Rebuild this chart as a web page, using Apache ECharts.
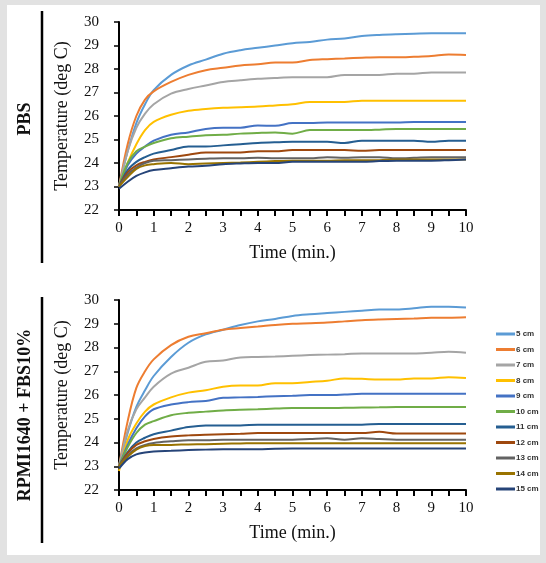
<!DOCTYPE html>
<html>
<head>
<meta charset="utf-8">
<script src="https://cdn.jsdelivr.net/npm/echarts@6/dist/echarts.min.js"></script>
</head>
<body style="margin:0">
<div id="chart" style="width:546px;height:563px;background:#fff;box-shadow:inset 7px 5px 0 #e2e2e2, inset -6px -8px 0 #e2e2e2"></div>
<script>
// time points (min.)
var times = [0, 0.25, 0.5, 0.75, 1, 1.5, 2, 2.5, 3, 3.5, 4, 4.5, 5, 5.5, 6, 6.5, 7, 7.5, 8, 8.5, 9, 9.5, 10]
var names = ['5 cm', '6 cm', '7 cm', '8 cm', '9 cm', '10 cm', '11 cm', '12 cm', '13 cm', '14 cm', '15 cm']
var colors = ['#5B9BD5', '#ED7D31', '#A5A5A5', '#FFC000', '#4472C4', '#70AD47', '#255E91', '#9E480E', '#636363', '#997300', '#264478']
var yTicks = [22, 23, 24, 25, 26, 27, 28, 29, 30]

// PBS
var pbs5  = [23.0, 24.5, 25.7, 26.5, 27.1, 27.75, 28.15, 28.4, 28.65, 28.8, 28.9, 29.0, 29.1, 29.15, 29.25, 29.3, 29.4, 29.45, 29.48, 29.5, 29.52, 29.52, 29.52]
var pbs6  = [23.0, 24.8, 26.0, 26.7, 27.05, 27.45, 27.75, 27.95, 28.05, 28.15, 28.2, 28.28, 28.28, 28.38, 28.42, 28.45, 28.48, 28.5, 28.5, 28.52, 28.55, 28.62, 28.6]
var pbs7  = [23.0, 24.5, 25.5, 26.1, 26.5, 26.95, 27.15, 27.3, 27.45, 27.52, 27.58, 27.62, 27.65, 27.65, 27.65, 27.75, 27.75, 27.75, 27.8, 27.8, 27.85, 27.85, 27.85]
var pbs8  = [23.0, 24.0, 24.8, 25.4, 25.75, 26.05, 26.22, 26.3, 26.35, 26.37, 26.4, 26.45, 26.5, 26.6, 26.6, 26.6, 26.65, 26.65, 26.65, 26.65, 26.65, 26.65, 26.65]
var pbs9  = [23.0, 23.9, 24.4, 24.7, 24.95, 25.2, 25.3, 25.45, 25.5, 25.5, 25.6, 25.58, 25.7, 25.7, 25.72, 25.72, 25.72, 25.72, 25.72, 25.74, 25.74, 25.75, 25.75]
var pbs10 = [23.0, 24.0, 24.5, 24.7, 24.85, 25.05, 25.12, 25.18, 25.2, 25.25, 25.28, 25.3, 25.25, 25.4, 25.4, 25.4, 25.4, 25.42, 25.45, 25.45, 25.45, 25.45, 25.45]
var pbs11 = [23.0, 23.7, 24.05, 24.25, 24.4, 24.55, 24.7, 24.7, 24.75, 24.8, 24.85, 24.88, 24.9, 24.9, 24.9, 24.85, 24.95, 24.95, 24.95, 24.95, 24.9, 24.95, 24.95]
var pbs12 = [23.0, 23.6, 23.9, 24.05, 24.15, 24.25, 24.35, 24.45, 24.45, 24.45, 24.5, 24.5, 24.55, 24.55, 24.55, 24.55, 24.52, 24.55, 24.55, 24.55, 24.55, 24.55, 24.55]
var pbs13 = [23.0, 23.5, 23.8, 24.0, 24.1, 24.12, 24.15, 24.18, 24.2, 24.2, 24.22, 24.2, 24.2, 24.2, 24.25, 24.22, 24.25, 24.25, 24.2, 24.22, 24.25, 24.25, 24.25]
var pbs14 = [23.0, 23.4, 23.75, 23.9, 23.95, 24.0, 23.95, 23.98, 24.0, 24.02, 24.05, 24.08, 24.1, 24.1, 24.1, 24.12, 24.12, 24.12, 24.15, 24.15, 24.15, 24.15, 24.15]
var pbs15 = [22.9, 23.2, 23.45, 23.6, 23.7, 23.78, 23.85, 23.88, 23.95, 23.98, 24.0, 24.0, 24.05, 24.05, 24.05, 24.05, 24.05, 24.08, 24.1, 24.1, 24.1, 24.12, 24.15]

// RPMI1640 + FBS10%
var rpmi5  = [23.0, 24.4, 25.5, 26.2, 26.8, 27.6, 28.2, 28.55, 28.75, 28.95, 29.1, 29.2, 29.33, 29.4, 29.45, 29.5, 29.55, 29.6, 29.6, 29.65, 29.72, 29.72, 29.68]
var rpmi6  = [23.0, 24.9, 26.3, 27.0, 27.5, 28.1, 28.45, 28.6, 28.75, 28.82, 28.88, 28.95, 29.0, 29.02, 29.05, 29.1, 29.15, 29.18, 29.2, 29.22, 29.25, 29.25, 29.27]
var rpmi7  = [23.0, 24.5, 25.4, 25.9, 26.35, 26.9, 27.15, 27.4, 27.45, 27.58, 27.6, 27.62, 27.65, 27.68, 27.7, 27.72, 27.75, 27.75, 27.75, 27.75, 27.78, 27.82, 27.78]
var rpmi8  = [22.8, 24.1, 24.8, 25.3, 25.6, 25.9, 26.1, 26.2, 26.35, 26.4, 26.4, 26.5, 26.5, 26.55, 26.6, 26.7, 26.68, 26.65, 26.65, 26.7, 26.7, 26.75, 26.72]
var rpmi9  = [23.0, 23.9, 24.6, 25.1, 25.4, 25.6, 25.7, 25.75, 25.88, 25.9, 25.92, 25.95, 25.97, 26.0, 26.0, 26.02, 26.05, 26.05, 26.05, 26.05, 26.05, 26.05, 26.05]
var rpmi10 = [23.0, 23.8, 24.4, 24.75, 24.9, 25.15, 25.25, 25.3, 25.35, 25.38, 25.4, 25.43, 25.45, 25.45, 25.45, 25.46, 25.47, 25.48, 25.5, 25.5, 25.5, 25.5, 25.5]
var rpmi11 = [23.0, 23.6, 24.0, 24.2, 24.35, 24.5, 24.65, 24.72, 24.72, 24.72, 24.75, 24.75, 24.75, 24.75, 24.75, 24.75, 24.75, 24.78, 24.78, 24.78, 24.78, 24.78, 24.78]
var rpmi12 = [23.0, 23.55, 23.9, 24.05, 24.15, 24.25, 24.3, 24.33, 24.35, 24.37, 24.4, 24.4, 24.4, 24.4, 24.4, 24.4, 24.4, 24.45, 24.38, 24.38, 24.38, 24.38, 24.38]
var rpmi13 = [23.0, 23.45, 23.75, 23.9, 23.98, 24.05, 24.1, 24.1, 24.12, 24.12, 24.12, 24.12, 24.12, 24.15, 24.18, 24.12, 24.18, 24.15, 24.12, 24.12, 24.12, 24.12, 24.12]
var rpmi14 = [23.0, 23.4, 23.7, 23.85, 23.9, 23.9, 23.92, 23.93, 23.95, 23.96, 23.97, 23.97, 23.97, 23.97, 23.97, 23.97, 23.97, 23.97, 23.97, 23.97, 23.97, 23.97, 23.97]
var rpmi15 = [22.9, 23.3, 23.5, 23.58, 23.62, 23.65, 23.68, 23.7, 23.72, 23.72, 23.72, 23.74, 23.75, 23.75, 23.75, 23.75, 23.75, 23.75, 23.75, 23.75, 23.75, 23.75, 23.75]

var pbsList = [pbs5, pbs6, pbs7, pbs8, pbs9, pbs10, pbs11, pbs12, pbs13, pbs14, pbs15]
var rpmiList = [rpmi5, rpmi6, rpmi7, rpmi8, rpmi9, rpmi10, rpmi11, rpmi12, rpmi13, rpmi14, rpmi15]

var serif = '"Liberation Serif", "DejaVu Serif", serif'

function makeX (idx) {
    return {
        type: 'value', gridIndex: idx, min: 0, max: 10, interval: 1,
        name: 'Time (min.)', nameLocation: 'middle', nameGap: 34,
        nameTextStyle: { fontFamily: serif, fontSize: 18, color: '#111' },
        axisLine: { show: true, lineStyle: { color: '#000', width: 2 } },
        axisTick: { show: true, length: 6, lineStyle: { color: '#000', width: 2 } },
        minorTick: { show: true, splitNumber: 2, length: 6, lineStyle: { color: '#000', width: 2 } },
        splitLine: { show: false },
        axisLabel: { fontFamily: serif, fontSize: 15, color: '#111', margin: 11 }
    }
}
function makeY (idx) {
    return {
        type: 'value', gridIndex: idx, min: yTicks[0], max: yTicks[yTicks.length - 1], interval: 1,
        name: 'Temperature (deg C)', nameLocation: 'middle', nameGap: 48,
        nameTextStyle: { fontFamily: serif, fontSize: 18, color: '#111' },
        axisLine: { show: true, lineStyle: { color: '#000', width: 2 } },
        axisTick: { show: true, length: 5, lineStyle: { color: '#000', width: 1.5 } },
        splitLine: { show: false },
        axisLabel: { fontFamily: serif, fontSize: 15, color: '#111', margin: 20 }
    }
}
// plain tick-only copies of the axes
function tickX (idx) {
    return {
        type: 'value', gridIndex: idx, position: 'bottom', min: 0, max: 10, interval: 1,
        axisLine: { show: false },
        axisTick: { show: true, length: 6, lineStyle: { color: '#000', width: 2 } },
        minorTick: { show: true, splitNumber: 2, length: 6, lineStyle: { color: '#000', width: 2 } },
        splitLine: { show: false },
        axisLabel: { show: false }
    }
}
function tickY (idx) {
    return {
        type: 'value', gridIndex: idx, position: 'left', min: yTicks[0], max: yTicks[yTicks.length - 1], interval: 1,
        axisLine: { show: false },
        axisTick: { show: true, length: 5, lineStyle: { color: '#000', width: 1.5 } },
        splitLine: { show: false },
        axisLabel: { show: false }
    }
}

var series = []
for (var k = 0; k < 2; k++) {
    var list = k === 0 ? pbsList : rpmiList
    for (var i = 0; i < names.length; i++) {
        var pts = []
        for (var j = 0; j < times.length; j++) {
            pts.push([times[j], list[i][j]])
        }
        series.push({
            name: names[i],
            type: 'line',
            xAxisIndex: k,
            yAxisIndex: k,
            data: pts,
            smooth: 0.35,
            showSymbol: false,
            lineStyle: { width: 2, color: colors[i] },
            itemStyle: { color: colors[i] }
        })
    }
}

var chart = echarts.init(document.getElementById('chart'))
var option = {
    animation: false,
    grid: [
        { left: 119, top: 22, width: 347, height: 188 },
        { left: 119, top: 300, width: 347, height: 190 }
    ],
    xAxis: [makeX(0), makeX(1), tickX(0), tickX(1)],
    yAxis: [makeY(0), makeY(1), tickY(0), tickY(1)],
    legend: {
        orient: 'vertical',
        left: 491,
        top: 324,
        icon: 'rect',
        itemWidth: 19,
        itemHeight: 3,
        itemGap: 5.5,
        data: names,
        textStyle: { fontSize: 8, color: '#333', fontWeight: 'bold', fontFamily: 'Arial, "Liberation Sans", sans-serif', padding: [0, 0, 0, -4], lineHeight: 10 }
    },
    graphic: [
        { type: 'line', shape: { x1: 42, y1: 11, x2: 42, y2: 263 }, style: { stroke: '#000', lineWidth: 2.5 } },
        { type: 'line', shape: { x1: 42, y1: 297, x2: 42, y2: 543 }, style: { stroke: '#000', lineWidth: 2.5 } },
        { type: 'text', x: 25, y: 119, rotation: Math.PI / 2,
          style: { text: 'PBS', fontFamily: serif, fontSize: 18, fontWeight: 'bold', fill: '#111', align: 'center', verticalAlign: 'middle' } },
        { type: 'text', x: 25, y: 415, rotation: Math.PI / 2,
          style: { text: 'RPMI1640 + FBS10%', fontFamily: serif, fontSize: 18, fontWeight: 'bold', fill: '#111', align: 'center', verticalAlign: 'middle' } }
    ],
    series: series
}
chart.setOption(option)
</script>
</body>
</html>
